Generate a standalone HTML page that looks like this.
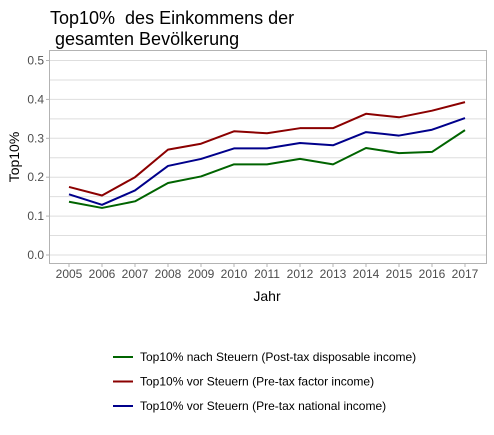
<!DOCTYPE html>
<html><head><meta charset="utf-8"><style>
body{margin:0;background:#fff;font-family:"Liberation Sans",Arial,sans-serif;}
svg text{font-family:"Liberation Sans",Arial,sans-serif;}
.pre{white-space:pre;}
</style></head><body>
<svg id="chart" width="494" height="430" viewBox="0 0 494 430" xmlns="http://www.w3.org/2000/svg">
<text class="pre" xml:space="preserve" x="50" y="24" font-size="18" fill="#000">Top10%  des Einkommens der</text>
<text class="pre" xml:space="preserve" x="50" y="45" font-size="18" fill="#000"> gesamten Bevölkerung</text>
<g id="grid"></g>
<rect x="49.5" y="50.5" width="437" height="213" fill="none" stroke="#b3b3b3" stroke-width="1"/>
<g id="axes"></g>
<g id="lines"></g>
<text x="267" y="301" font-size="14" text-anchor="middle" fill="#000">Jahr</text>
<text transform="translate(19,157) rotate(-90)" font-size="14" text-anchor="middle" fill="#000">Top10%</text>
<g id="legend"></g>
</svg>
<script>
const years=[2005,2006,2007,2008,2009,2010,2011,2012,2013,2014,2015,2016,2017];
const postTax=[0.137,0.121,0.138,0.185,0.202,0.233,0.233,0.247,0.233,0.275,0.262,0.265,0.321];
const preTaxFactor=[0.175,0.153,0.200,0.271,0.286,0.318,0.313,0.326,0.326,0.363,0.354,0.371,0.393];
const preTaxNational=[0.156,0.129,0.166,0.229,0.247,0.274,0.274,0.288,0.282,0.316,0.307,0.322,0.352];
const yTicks=[0,0.1,0.2,0.3,0.4,0.5];
const yTickLabels=["0.0","0.1","0.2","0.3","0.4","0.5"];
const legendLabels=["Top10% nach Steuern (Post-tax disposable income)","Top10% vor Steuern (Pre-tax factor income)","Top10% vor Steuern (Pre-tax national income)"];
const NS="http://www.w3.org/2000/svg";
const x=y=>69+(y-2005)*33;
const yS=v=>255+ -v*389;
function mk(t,a,p){const e=document.createElementNS(NS,t);for(const k in a)e.setAttribute(k,a[k]);p.appendChild(e);return e;}
const grid=document.getElementById('grid'),axes=document.getElementById('axes');
for(let v=0;v<=0.5001;v+=0.05){
 const l=mk('line',{x1:50,x2:486,y1:yS(v),y2:yS(v),stroke:'#dedede','stroke-width':1},grid);
 
 
}
yTicks.forEach((v,i)=>{
 const t=mk('text',{x:44,y:yS(v)+4,'font-size':12,'text-anchor':'end',fill:'#4d4d4d'},axes);t.textContent=yTickLabels[i];
 
 
 mk('line',{x1:46,x2:49.5,y1:yS(v),y2:yS(v),stroke:'#b3b3b3'},axes);
});
years.forEach(y=>{
 const t=mk('text',{x:x(y),y:278,'font-size':12,'text-anchor':'middle',fill:'#4d4d4d'},axes);t.textContent=y;
 
 
 mk('line',{x1:x(y),x2:x(y),y1:263.5,y2:267,stroke:'#b3b3b3'},axes);
});
const series=[[postTax,'#006400','line-post-tax'],[preTaxFactor,'#8b0000','line-pre-tax-factor'],[preTaxNational,'#00008b','line-pre-tax-national']];
const lines=document.getElementById('lines');
series.forEach(([d,c,n])=>{
 const p=mk('polyline',{points:d.map((v,i)=>x(years[i])+','+yS(v)).join(' '),fill:'none',stroke:c,'stroke-width':2,'stroke-linejoin':'round'},lines);
 
 
});
const leg=document.getElementById('legend');
legendLabels.forEach((lab,i)=>{
 const yy=357+i*24.5;
 mk('line',{x1:113,x2:133,y1:yy,y2:yy,stroke:series[i][1],'stroke-width':2},leg);
 const t=mk('text',{x:140,y:yy+4,'font-size':12,fill:'#000'},leg);t.textContent=lab;
 
 
});
</script>
</body></html>
